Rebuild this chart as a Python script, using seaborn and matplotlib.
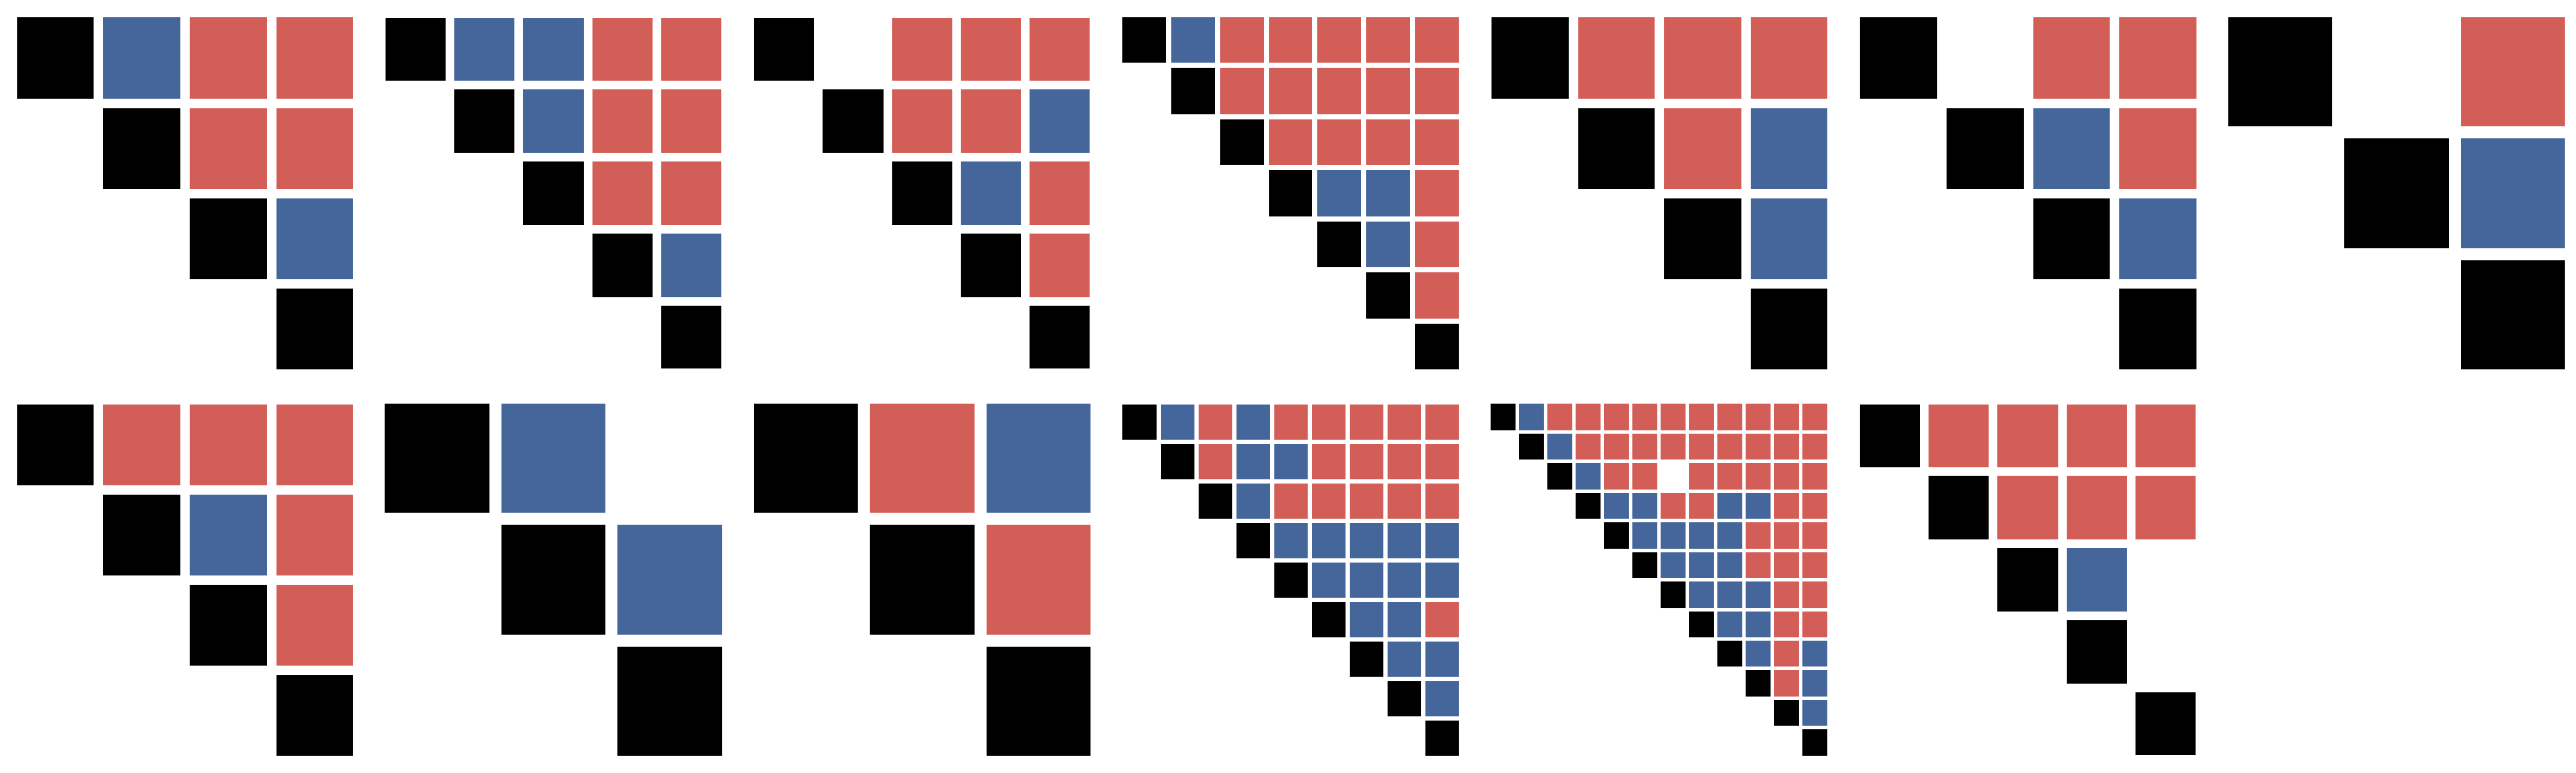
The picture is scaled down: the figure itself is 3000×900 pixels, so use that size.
import numpy as np
import pandas as pd
import matplotlib
matplotlib.use('Agg')
import matplotlib.pyplot as plt
from matplotlib.colors import ListedColormap
import seaborn as sns

# Upper-triangular panels: each row string starts at the diagonal.
# k = diagonal, r = red, b = blue, . = empty
p1 = ['kbrr', 'krr', 'kb', 'k']
p2 = ['kbbrr', 'kbrr', 'krr', 'kb', 'k']
p3 = ['k.rrr', 'krrb', 'kbr', 'kr', 'k']
p4 = ['kbrrrrr', 'krrrrr', 'krrrr', 'kbbr', 'kbr', 'kr', 'k']
p5 = ['krrr', 'krb', 'kb', 'k']
p6 = ['k.rr', 'kbr', 'kb', 'k']
p7 = ['k.r', 'kb', 'k']
p8 = ['krrr', 'kbr', 'kr', 'k']
p9 = ['kb.', 'kb', 'k']
p10 = ['krb', 'kr', 'k']
p11 = ['kbrbrrrrr', 'krbbrrrr', 'kbrrrrr', 'kbbbbb', 'kbbbb', 'kbbr', 'kbb', 'kb', 'k']
p12 = ['kbrrrrrrrrrr', 'kbrrrrrrrrr', 'kbrr.rrrrr', 'kbbrrbbrr', 'kbbbbrrr',
       'kbbbrrr', 'kbbbrr', 'kbbrr', 'kbrb', 'krb', 'kb', 'k']
p13 = ['krrrr', 'krrr', 'kb.', 'k.', 'k']

panels = [p1, p2, p3, p4, p5, p6, p7, p8, p9, p10, p11, p12, p13]
codes = {'r': 1, 'b': 2, 'k': 3, '.': np.nan}

red = '#d35d57'
blue = '#45669b'
cmap = ListedColormap([red, blue, 'black'])


def to_frame(rows):
    n = len(rows)
    m = np.full((n, n), np.nan)
    for i, row in enumerate(rows):
        for j, ch in enumerate(row):
            m[i, i + j] = codes[ch]
    return pd.DataFrame(m)


fig, axes = plt.subplots(2, 7, figsize=(20, 6), dpi=150)
fig.subplots_adjust(left=19 / 3000, right=2987 / 3000, top=1 - 20 / 900,
                    bottom=1 - 880 / 900, wspace=0.094, hspace=0.098)

gap = 0.105  # white gap as a share of the cell pitch
for ax, rows in zip(axes.flat, panels):
    df = to_frame(rows)
    n = len(rows)
    lw = gap * 400 / n * 72 / 150
    sns.heatmap(df, mask=df.isna(), cmap=cmap, vmin=0.5, vmax=3.5, cbar=False,
                linewidths=lw, linecolor='white', xticklabels=False,
                yticklabels=False, ax=ax)
    # trim the outer half-gap so the cells reach the panel edges
    ax.set_xlim(gap / 2, n - gap / 2)
    ax.set_ylim(n - gap / 2, gap / 2)

for ax in axes.flat[len(panels):]:
    ax.set_axis_off()

plt.savefig('out.png', dpi=150)
